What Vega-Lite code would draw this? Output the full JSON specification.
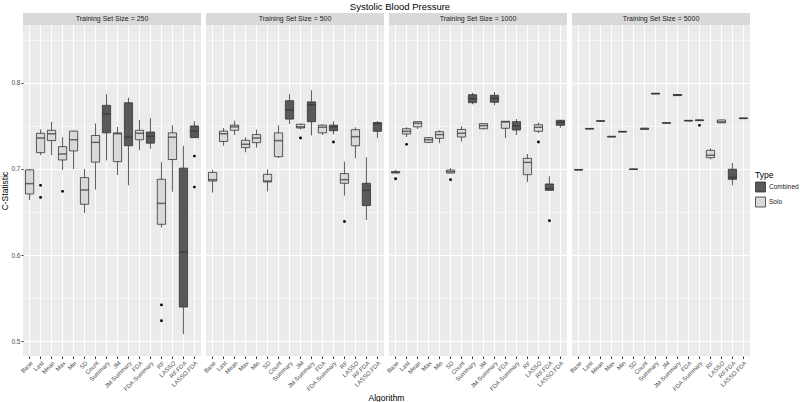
{
  "$schema": "https://vega.github.io/schema/vega-lite/v6.json",
  "background": "white",
  "padding": {"left": 0, "top": 1, "right": 0, "bottom": 0},
  "title": {"text": "Systolic Blood Pressure", "fontSize": 9.5, "fontWeight": "normal", "anchor": "middle", "offset": 2, "color": "#000000"},
  "config": {
    "font": "Liberation Sans",
    "view": {"stroke": null}
  },
  "datasets": {
    "boxes": [
      {"size": 250, "alg": "Base", "type": "Solo", "lo": 0.664, "q1": 0.671, "med": 0.683, "q3": 0.699, "hi": 0.700},
      {"size": 250, "alg": "Last", "type": "Solo", "lo": 0.716, "q1": 0.719, "med": 0.736, "q3": 0.7415, "hi": 0.746},
      {"size": 250, "alg": "Mean", "type": "Solo", "lo": 0.716, "q1": 0.733, "med": 0.741, "q3": 0.745, "hi": 0.755},
      {"size": 250, "alg": "Max", "type": "Solo", "lo": 0.699, "q1": 0.7105, "med": 0.7174, "q3": 0.726, "hi": 0.737},
      {"size": 250, "alg": "Min", "type": "Solo", "lo": 0.700, "q1": 0.721, "med": 0.734, "q3": 0.744, "hi": 0.745},
      {"size": 250, "alg": "SD", "type": "Solo", "lo": 0.649, "q1": 0.659, "med": 0.6756, "q3": 0.690, "hi": 0.700},
      {"size": 250, "alg": "Count", "type": "Solo", "lo": 0.676, "q1": 0.708, "med": 0.731, "q3": 0.739, "hi": 0.753},
      {"size": 250, "alg": "Summary", "type": "Combined", "lo": 0.710, "q1": 0.742, "med": 0.764, "q3": 0.774, "hi": 0.787},
      {"size": 250, "alg": "JM", "type": "Solo", "lo": 0.693, "q1": 0.7085, "med": 0.741, "q3": 0.742, "hi": 0.749},
      {"size": 250, "alg": "JM.Summary", "type": "Combined", "lo": 0.681, "q1": 0.727, "med": 0.737, "q3": 0.777, "hi": 0.783},
      {"size": 250, "alg": "FDA", "type": "Solo", "lo": 0.722, "q1": 0.734, "med": 0.7415, "q3": 0.745, "hi": 0.757},
      {"size": 250, "alg": "FDA.Summary", "type": "Combined", "lo": 0.7236, "q1": 0.730, "med": 0.738, "q3": 0.743, "hi": 0.759},
      {"size": 250, "alg": "RF", "type": "Solo", "lo": 0.632, "q1": 0.6357, "med": 0.660, "q3": 0.688, "hi": 0.708},
      {"size": 250, "alg": "LASSO", "type": "Solo", "lo": 0.6736, "q1": 0.711, "med": 0.737, "q3": 0.742, "hi": 0.751},
      {"size": 250, "alg": "RF.FDA", "type": "Combined", "lo": 0.508, "q1": 0.5395, "med": 0.6035, "q3": 0.701, "hi": 0.727},
      {"size": 250, "alg": "LASSO.FDA", "type": "Combined", "lo": 0.7364, "q1": 0.7364, "med": 0.744, "q3": 0.750, "hi": 0.7555},

      {"size": 500, "alg": "Base", "type": "Solo", "lo": 0.6725, "q1": 0.686, "med": 0.6876, "q3": 0.696, "hi": 0.699},
      {"size": 500, "alg": "Last", "type": "Solo", "lo": 0.727, "q1": 0.732, "med": 0.741, "q3": 0.744, "hi": 0.7477},
      {"size": 500, "alg": "Mean", "type": "Solo", "lo": 0.7395, "q1": 0.745, "med": 0.749, "q3": 0.751, "hi": 0.756},
      {"size": 500, "alg": "Max", "type": "Solo", "lo": 0.7194, "q1": 0.7248, "med": 0.7287, "q3": 0.7334, "hi": 0.737},
      {"size": 500, "alg": "Min", "type": "Solo", "lo": 0.7248, "q1": 0.7306, "med": 0.736, "q3": 0.740, "hi": 0.7457},
      {"size": 500, "alg": "SD", "type": "Solo", "lo": 0.674, "q1": 0.6849, "med": 0.686, "q3": 0.6938, "hi": 0.6997},
      {"size": 500, "alg": "Count", "type": "Solo", "lo": 0.7128, "q1": 0.7143, "med": 0.733, "q3": 0.742, "hi": 0.751},
      {"size": 500, "alg": "Summary", "type": "Combined", "lo": 0.7523, "q1": 0.758, "med": 0.7686, "q3": 0.7794, "hi": 0.787},
      {"size": 500, "alg": "JM", "type": "Solo", "lo": 0.746, "q1": 0.7477, "med": 0.749, "q3": 0.752, "hi": 0.753},
      {"size": 500, "alg": "JM.Summary", "type": "Combined", "lo": 0.739, "q1": 0.755, "med": 0.7748, "q3": 0.778, "hi": 0.7915},
      {"size": 500, "alg": "FDA", "type": "Solo", "lo": 0.7395, "q1": 0.742, "med": 0.7485, "q3": 0.751, "hi": 0.752},
      {"size": 500, "alg": "FDA.Summary", "type": "Combined", "lo": 0.7403, "q1": 0.7445, "med": 0.749, "q3": 0.751, "hi": 0.7555},
      {"size": 500, "alg": "RF", "type": "Solo", "lo": 0.669, "q1": 0.6834, "med": 0.6876, "q3": 0.6946, "hi": 0.7085},
      {"size": 500, "alg": "LASSO", "type": "Solo", "lo": 0.7124, "q1": 0.727, "med": 0.7376, "q3": 0.7457, "hi": 0.7485},
      {"size": 500, "alg": "RF.FDA", "type": "Combined", "lo": 0.6407, "q1": 0.6574, "med": 0.6752, "q3": 0.6834, "hi": 0.7136},
      {"size": 500, "alg": "LASSO.FDA", "type": "Combined", "lo": 0.736, "q1": 0.7438, "med": 0.7527, "q3": 0.754, "hi": 0.7555},

      {"size": 1000, "alg": "Base", "type": "Solo", "lo": 0.695, "q1": 0.6955, "med": 0.696, "q3": 0.697, "hi": 0.699},
      {"size": 1000, "alg": "Last", "type": "Solo", "lo": 0.737, "q1": 0.7407, "med": 0.7438, "q3": 0.7468, "hi": 0.7485},
      {"size": 1000, "alg": "Mean", "type": "Solo", "lo": 0.7465, "q1": 0.749, "med": 0.7531, "q3": 0.755, "hi": 0.7555},
      {"size": 1000, "alg": "Max", "type": "Solo", "lo": 0.730, "q1": 0.731, "med": 0.734, "q3": 0.7364, "hi": 0.737},
      {"size": 1000, "alg": "Min", "type": "Solo", "lo": 0.730, "q1": 0.7357, "med": 0.740, "q3": 0.7434, "hi": 0.745},
      {"size": 1000, "alg": "SD", "type": "Solo", "lo": 0.695, "q1": 0.6953, "med": 0.6969, "q3": 0.6988, "hi": 0.7008},
      {"size": 1000, "alg": "Count", "type": "Solo", "lo": 0.732, "q1": 0.7372, "med": 0.7415, "q3": 0.746, "hi": 0.7496},
      {"size": 1000, "alg": "Summary", "type": "Combined", "lo": 0.7752, "q1": 0.7771, "med": 0.7817, "q3": 0.7864, "hi": 0.7887},
      {"size": 1000, "alg": "JM", "type": "Solo", "lo": 0.746, "q1": 0.7468, "med": 0.7504, "q3": 0.7527, "hi": 0.753},
      {"size": 1000, "alg": "JM.Summary", "type": "Combined", "lo": 0.774, "q1": 0.7776, "med": 0.7822, "q3": 0.7857, "hi": 0.7895},
      {"size": 1000, "alg": "FDA", "type": "Solo", "lo": 0.736, "q1": 0.7473, "med": 0.7547, "q3": 0.7555, "hi": 0.7555},
      {"size": 1000, "alg": "FDA.Summary", "type": "Combined", "lo": 0.7395, "q1": 0.7453, "med": 0.7504, "q3": 0.755, "hi": 0.758},
      {"size": 1000, "alg": "RF", "type": "Solo", "lo": 0.6849, "q1": 0.6934, "med": 0.7077, "q3": 0.7124, "hi": 0.7174},
      {"size": 1000, "alg": "LASSO", "type": "Solo", "lo": 0.742, "q1": 0.7438, "med": 0.7485, "q3": 0.7515, "hi": 0.7539},
      {"size": 1000, "alg": "RF.FDA", "type": "Combined", "lo": 0.675, "q1": 0.6752, "med": 0.6771, "q3": 0.6826, "hi": 0.6915},
      {"size": 1000, "alg": "LASSO.FDA", "type": "Combined", "lo": 0.748, "q1": 0.7508, "med": 0.7543, "q3": 0.7566, "hi": 0.757},

      {"size": 5000, "alg": "Base", "type": "Solo", "lo": 0.6985, "q1": 0.6988, "med": 0.699, "q3": 0.6995, "hi": 0.6998},
      {"size": 5000, "alg": "Last", "type": "Solo", "lo": 0.7462, "q1": 0.7465, "med": 0.7468, "q3": 0.7472, "hi": 0.7475},
      {"size": 5000, "alg": "Mean", "type": "Solo", "lo": 0.7552, "q1": 0.7555, "med": 0.7558, "q3": 0.7561, "hi": 0.7564},
      {"size": 5000, "alg": "Max", "type": "Solo", "lo": 0.737, "q1": 0.7373, "med": 0.7376, "q3": 0.738, "hi": 0.7383},
      {"size": 5000, "alg": "Min", "type": "Solo", "lo": 0.7428, "q1": 0.7431, "med": 0.7434, "q3": 0.7437, "hi": 0.744},
      {"size": 5000, "alg": "SD", "type": "Solo", "lo": 0.6991, "q1": 0.6994, "med": 0.6997, "q3": 0.7, "hi": 0.7003},
      {"size": 5000, "alg": "Count", "type": "Solo", "lo": 0.7455, "q1": 0.746, "med": 0.7468, "q3": 0.7475, "hi": 0.748},
      {"size": 5000, "alg": "Summary", "type": "Combined", "lo": 0.787, "q1": 0.7873, "med": 0.7876, "q3": 0.788, "hi": 0.7883},
      {"size": 5000, "alg": "JM", "type": "Solo", "lo": 0.7529, "q1": 0.7532, "med": 0.7535, "q3": 0.7538, "hi": 0.7541},
      {"size": 5000, "alg": "JM.Summary", "type": "Combined", "lo": 0.785, "q1": 0.7853, "med": 0.786, "q3": 0.7866, "hi": 0.787},
      {"size": 5000, "alg": "FDA", "type": "Solo", "lo": 0.7556, "q1": 0.7559, "med": 0.7562, "q3": 0.7565, "hi": 0.7568},
      {"size": 5000, "alg": "FDA.Summary", "type": "Combined", "lo": 0.756, "q1": 0.7562, "med": 0.7566, "q3": 0.757, "hi": 0.7573},
      {"size": 5000, "alg": "RF", "type": "Solo", "lo": 0.7113, "q1": 0.7131, "med": 0.716, "q3": 0.7217, "hi": 0.724},
      {"size": 5000, "alg": "LASSO", "type": "Solo", "lo": 0.7535, "q1": 0.7537, "med": 0.7547, "q3": 0.757, "hi": 0.7575},
      {"size": 5000, "alg": "RF.FDA", "type": "Combined", "lo": 0.681, "q1": 0.688, "med": 0.6903, "q3": 0.6997, "hi": 0.707},
      {"size": 5000, "alg": "LASSO.FDA", "type": "Combined", "lo": 0.7583, "q1": 0.7586, "med": 0.7589, "q3": 0.7593, "hi": 0.7596}
    ],
    "outliers": [
      {"size": 250, "alg": "Last", "value": 0.681},
      {"size": 250, "alg": "Last", "value": 0.667},
      {"size": 250, "alg": "Max", "value": 0.674},
      {"size": 250, "alg": "RF", "value": 0.542},
      {"size": 250, "alg": "RF", "value": 0.5236},
      {"size": 250, "alg": "LASSO.FDA", "value": 0.715},
      {"size": 250, "alg": "LASSO.FDA", "value": 0.679},
      {"size": 500, "alg": "JM", "value": 0.736},
      {"size": 500, "alg": "FDA.Summary", "value": 0.7314},
      {"size": 500, "alg": "RF", "value": 0.639},
      {"size": 1000, "alg": "Base", "value": 0.6887},
      {"size": 1000, "alg": "Last", "value": 0.7287},
      {"size": 1000, "alg": "SD", "value": 0.6876},
      {"size": 1000, "alg": "LASSO", "value": 0.7314},
      {"size": 1000, "alg": "RF.FDA", "value": 0.6399},
      {"size": 5000, "alg": "FDA.Summary", "value": 0.7508}
    ],
    "strips": [
      {"size": 250, "label": "Training Set Size = 250"},
      {"size": 500, "label": "Training Set Size = 500"},
      {"size": 1000, "label": "Training Set Size = 1000"},
      {"size": 5000, "label": "Training Set Size = 5000"}
    ]
  },
  "resolve": {"scale": {"fill": "shared"}},
  "spacing": 0,
  "vconcat": [
    {
      "spacing": 5,
      "hconcat": [
        {"width": 178, "height": 12, "view": {"fill": "#D9D9D9", "stroke": null}, "data": {"name": "strips"}, "transform": [{"filter": "datum.size == 250"}],
          "mark": {"type": "text", "fontSize": 7, "color": "#1a1a1a"}, "encoding": {"x": {"field": "label", "type": "nominal", "axis": null}, "text": {"field": "label"}}},
        {"width": 178, "height": 12, "view": {"fill": "#D9D9D9", "stroke": null}, "data": {"name": "strips"}, "transform": [{"filter": "datum.size == 500"}],
          "mark": {"type": "text", "fontSize": 7, "color": "#1a1a1a"}, "encoding": {"x": {"field": "label", "type": "nominal", "axis": null}, "text": {"field": "label"}}},
        {"width": 178, "height": 12, "view": {"fill": "#D9D9D9", "stroke": null}, "data": {"name": "strips"}, "transform": [{"filter": "datum.size == 1000"}],
          "mark": {"type": "text", "fontSize": 7, "color": "#1a1a1a"}, "encoding": {"x": {"field": "label", "type": "nominal", "axis": null}, "text": {"field": "label"}}},
        {"width": 178, "height": 12, "view": {"fill": "#D9D9D9", "stroke": null}, "data": {"name": "strips"}, "transform": [{"filter": "datum.size == 5000"}],
          "mark": {"type": "text", "fontSize": 7, "color": "#1a1a1a"}, "encoding": {"x": {"field": "label", "type": "nominal", "axis": null}, "text": {"field": "label"}}}
      ]
    },
    {
      "spacing": 5,
      "bounds": "flush",
      "resolve": {"scale": {"fill": "shared"}},
      "hconcat": [
        {
          "width": 178, "height": 331,
          "view": {"fill": "#EBEBEB", "stroke": null},
          "layer": [
            {
              "data": {"name": "boxes"},
              "transform": [{"filter": "datum.size == 250"}],
              "mark": {"type": "rule", "color": "#333333", "strokeWidth": 0.8},
              "encoding": {
                "x": {"field": "alg", "type": "nominal", "sort": null, "scale": {"paddingInner": 0, "paddingOuter": 0.1},
                  "axis": {"title": null, "labelAngle": -45, "labelAlign": "right", "labelBaseline": "top", "labelFontSize": 6, "labelColor": "#4d4d4d", "tickColor": "#333333", "tickSize": 2.5, "labelPadding": 1, "domain": false, "grid": true, "gridColor": "#FFFFFF", "gridWidth": 1, "bandPosition": 0.5}},
                "y": {"field": "lo", "type": "quantitative", "scale": {"domain": [0.4826, 0.8674], "nice": false, "zero": false},
                  "axis": {"title": "C-Statistic", "titleFontSize": 8.5, "titleFontWeight": "normal", "titleColor": "#000000", "titlePadding": 1,
                    "values": [0.5, 0.55, 0.6, 0.65, 0.7, 0.75, 0.8, 0.85],
                    "labelExpr": "round(datum.value*100)%10==0 ? format(datum.value,'.1f') : ''",
                    "labelFontSize": 6.5, "labelColor": "#4d4d4d", "labelPadding": 1, "tickSize": 2,
                    "tickColor": {"condition": {"test": "round(datum.value*100)%10!=0", "value": "transparent"}, "value": "#333333"},
                    "domain": false, "grid": true, "gridColor": "#FFFFFF",
                    "gridWidth": {"condition": {"test": "round(datum.value*100)%10!=0", "value": 0.5}, "value": 1.1}}},
                "y2": {"field": "hi"}
              }
            },
            {
              "data": {"name": "boxes"},
              "transform": [{"filter": "datum.size == 250"}],
              "mark": {"type": "bar", "stroke": "#333333", "strokeWidth": 0.8, "width": {"band": 0.75}},
              "encoding": {
                "x": {"field": "alg", "type": "nominal", "sort": null},
                "y": {"field": "q1", "type": "quantitative"},
                "y2": {"field": "q3"},
                "fill": {"field": "type", "type": "nominal", "scale": {"domain": ["Combined", "Solo"], "range": ["#595959", "#D9D9D9"]},
                  "legend": {"title": "Type", "orient": "none", "legendX": 732, "legendY": 158, "titleFontSize": 8.5, "titleFontWeight": "normal", "titleColor": "#000000", "titlePadding": 2, "labelFontSize": 6.5, "labelColor": "#1a1a1a", "symbolType": "square", "symbolSize": 100, "symbolStrokeColor": "#333333", "symbolStrokeWidth": 0.8, "rowPadding": 0, "labelOffset": 3}}
              }
            },
            {
              "data": {"name": "boxes"},
              "transform": [{"filter": "datum.size == 250"}],
              "mark": {"type": "tick", "color": "#333333", "thickness": 1.5, "size": 8.2},
              "encoding": {"x": {"field": "alg", "type": "nominal", "sort": null}, "y": {"field": "med", "type": "quantitative"}}
            },
            {
              "data": {"name": "outliers"},
              "transform": [{"filter": "datum.size == 250"}],
              "mark": {"type": "circle", "color": "#000000", "opacity": 1, "size": 8},
              "encoding": {"x": {"field": "alg", "type": "nominal", "sort": null}, "y": {"field": "value", "type": "quantitative"}}
            }
          ]
        },
        {
          "width": 178, "height": 331,
          "view": {"fill": "#EBEBEB", "stroke": null},
          "layer": [
            {
              "data": {"name": "boxes"},
              "transform": [{"filter": "datum.size == 500"}],
              "mark": {"type": "rule", "color": "#333333", "strokeWidth": 0.8},
              "encoding": {
                "x": {"field": "alg", "type": "nominal", "sort": null, "scale": {"paddingInner": 0, "paddingOuter": 0.1},
                  "axis": {"title": "Algorithm", "titleX": 180, "titleY": 37, "titleBaseline": "top", "titleFontSize": 8.5, "titleFontWeight": "normal", "titleColor": "#000000", "labelAngle": -45, "labelAlign": "right", "labelBaseline": "top", "labelFontSize": 6, "labelColor": "#4d4d4d", "tickColor": "#333333", "tickSize": 2.5, "labelPadding": 1, "domain": false, "grid": true, "gridColor": "#FFFFFF", "gridWidth": 1, "bandPosition": 0.5}},
                "y": {"field": "lo", "type": "quantitative", "scale": {"domain": [0.4826, 0.8674], "nice": false, "zero": false},
                  "axis": {"title": null, "labels": false, "ticks": false, "domain": false, "values": [0.5, 0.55, 0.6, 0.65, 0.7, 0.75, 0.8, 0.85], "grid": true, "gridColor": "#FFFFFF",
                    "gridWidth": {"condition": {"test": "round(datum.value*100)%10!=0", "value": 0.5}, "value": 1.1}}},
                "y2": {"field": "hi"}
              }
            },
            {
              "data": {"name": "boxes"},
              "transform": [{"filter": "datum.size == 500"}],
              "mark": {"type": "bar", "stroke": "#333333", "strokeWidth": 0.8, "width": {"band": 0.75}},
              "encoding": {
                "x": {"field": "alg", "type": "nominal", "sort": null},
                "y": {"field": "q1", "type": "quantitative"},
                "y2": {"field": "q3"},
                "fill": {"field": "type", "type": "nominal", "scale": {"domain": ["Combined", "Solo"], "range": ["#595959", "#D9D9D9"]}, "legend": null}
              }
            },
            {
              "data": {"name": "boxes"},
              "transform": [{"filter": "datum.size == 500"}],
              "mark": {"type": "tick", "color": "#333333", "thickness": 1.5, "size": 8.2},
              "encoding": {"x": {"field": "alg", "type": "nominal", "sort": null}, "y": {"field": "med", "type": "quantitative"}}
            },
            {
              "data": {"name": "outliers"},
              "transform": [{"filter": "datum.size == 500"}],
              "mark": {"type": "circle", "color": "#000000", "opacity": 1, "size": 8},
              "encoding": {"x": {"field": "alg", "type": "nominal", "sort": null}, "y": {"field": "value", "type": "quantitative"}}
            }
          ]
        },
        {
          "width": 178, "height": 331,
          "view": {"fill": "#EBEBEB", "stroke": null},
          "layer": [
            {
              "data": {"name": "boxes"},
              "transform": [{"filter": "datum.size == 1000"}],
              "mark": {"type": "rule", "color": "#333333", "strokeWidth": 0.8},
              "encoding": {
                "x": {"field": "alg", "type": "nominal", "sort": null, "scale": {"paddingInner": 0, "paddingOuter": 0.1},
                  "axis": {"title": null, "labelAngle": -45, "labelAlign": "right", "labelBaseline": "top", "labelFontSize": 6, "labelColor": "#4d4d4d", "tickColor": "#333333", "tickSize": 2.5, "labelPadding": 1, "domain": false, "grid": true, "gridColor": "#FFFFFF", "gridWidth": 1, "bandPosition": 0.5}},
                "y": {"field": "lo", "type": "quantitative", "scale": {"domain": [0.4826, 0.8674], "nice": false, "zero": false},
                  "axis": {"title": null, "labels": false, "ticks": false, "domain": false, "values": [0.5, 0.55, 0.6, 0.65, 0.7, 0.75, 0.8, 0.85], "grid": true, "gridColor": "#FFFFFF",
                    "gridWidth": {"condition": {"test": "round(datum.value*100)%10!=0", "value": 0.5}, "value": 1.1}}},
                "y2": {"field": "hi"}
              }
            },
            {
              "data": {"name": "boxes"},
              "transform": [{"filter": "datum.size == 1000"}],
              "mark": {"type": "bar", "stroke": "#333333", "strokeWidth": 0.8, "width": {"band": 0.75}},
              "encoding": {
                "x": {"field": "alg", "type": "nominal", "sort": null},
                "y": {"field": "q1", "type": "quantitative"},
                "y2": {"field": "q3"},
                "fill": {"field": "type", "type": "nominal", "scale": {"domain": ["Combined", "Solo"], "range": ["#595959", "#D9D9D9"]}, "legend": null}
              }
            },
            {
              "data": {"name": "boxes"},
              "transform": [{"filter": "datum.size == 1000"}],
              "mark": {"type": "tick", "color": "#333333", "thickness": 1.5, "size": 8.2},
              "encoding": {"x": {"field": "alg", "type": "nominal", "sort": null}, "y": {"field": "med", "type": "quantitative"}}
            },
            {
              "data": {"name": "outliers"},
              "transform": [{"filter": "datum.size == 1000"}],
              "mark": {"type": "circle", "color": "#000000", "opacity": 1, "size": 8},
              "encoding": {"x": {"field": "alg", "type": "nominal", "sort": null}, "y": {"field": "value", "type": "quantitative"}}
            }
          ]
        },
        {
          "width": 178, "height": 331,
          "view": {"fill": "#EBEBEB", "stroke": null},
          "layer": [
            {
              "data": {"name": "boxes"},
              "transform": [{"filter": "datum.size == 5000"}],
              "mark": {"type": "rule", "color": "#333333", "strokeWidth": 0.8},
              "encoding": {
                "x": {"field": "alg", "type": "nominal", "sort": null, "scale": {"paddingInner": 0, "paddingOuter": 0.1},
                  "axis": {"title": null, "labelAngle": -45, "labelAlign": "right", "labelBaseline": "top", "labelFontSize": 6, "labelColor": "#4d4d4d", "tickColor": "#333333", "tickSize": 2.5, "labelPadding": 1, "domain": false, "grid": true, "gridColor": "#FFFFFF", "gridWidth": 1, "bandPosition": 0.5}},
                "y": {"field": "lo", "type": "quantitative", "scale": {"domain": [0.4826, 0.8674], "nice": false, "zero": false},
                  "axis": {"title": null, "labels": false, "ticks": false, "domain": false, "values": [0.5, 0.55, 0.6, 0.65, 0.7, 0.75, 0.8, 0.85], "grid": true, "gridColor": "#FFFFFF",
                    "gridWidth": {"condition": {"test": "round(datum.value*100)%10!=0", "value": 0.5}, "value": 1.1}}},
                "y2": {"field": "hi"}
              }
            },
            {
              "data": {"name": "boxes"},
              "transform": [{"filter": "datum.size == 5000"}],
              "mark": {"type": "bar", "stroke": "#333333", "strokeWidth": 0.8, "width": {"band": 0.75}},
              "encoding": {
                "x": {"field": "alg", "type": "nominal", "sort": null},
                "y": {"field": "q1", "type": "quantitative"},
                "y2": {"field": "q3"},
                "fill": {"field": "type", "type": "nominal", "scale": {"domain": ["Combined", "Solo"], "range": ["#595959", "#D9D9D9"]}, "legend": null}
              }
            },
            {
              "data": {"name": "boxes"},
              "transform": [{"filter": "datum.size == 5000"}],
              "mark": {"type": "tick", "color": "#333333", "thickness": 1.5, "size": 8.2},
              "encoding": {"x": {"field": "alg", "type": "nominal", "sort": null}, "y": {"field": "med", "type": "quantitative"}}
            },
            {
              "data": {"name": "outliers"},
              "transform": [{"filter": "datum.size == 5000"}],
              "mark": {"type": "circle", "color": "#000000", "opacity": 1, "size": 8},
              "encoding": {"x": {"field": "alg", "type": "nominal", "sort": null}, "y": {"field": "value", "type": "quantitative"}}
            }
          ]
        }
      ]
    }
  ]
}
